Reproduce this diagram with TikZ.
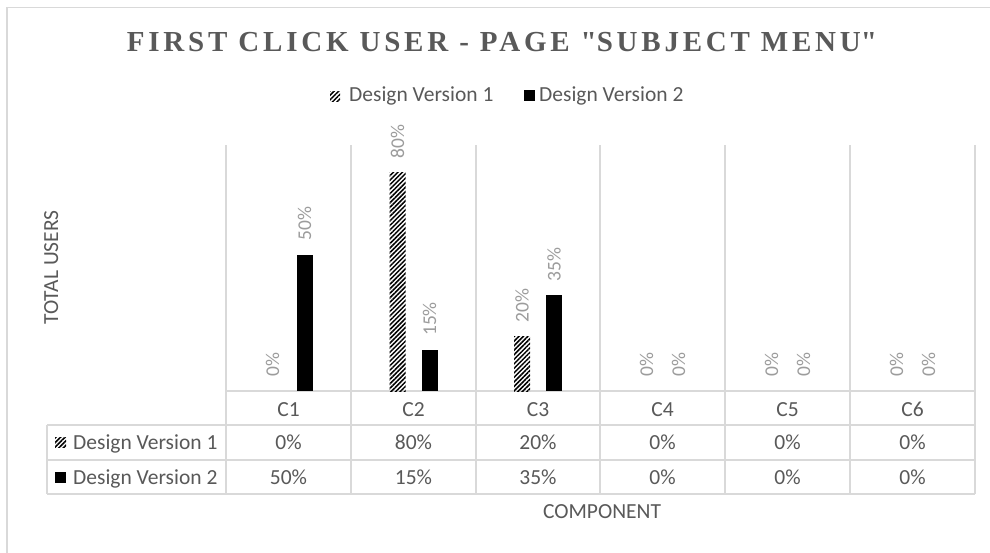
\documentclass[tikz,border=0pt]{standalone}
\usepackage{fontspec}
\setmainfont{Carlito}
\newfontfamily\titlefont[LetterSpace=13]{Liberation Serif}
\usetikzlibrary{patterns.meta}
\definecolor{gridgray}{HTML}{D9D9D9}
\definecolor{txtgray}{HTML}{595959}
\definecolor{lblgray}{HTML}{9C9C9C}

\begin{document}
\begin{tikzpicture}[x=1pt,y=-1pt,
  grid/.style={draw=gridgray,line width=1.6pt},
  txt/.style={inner sep=0pt,text=txtgray,font=\fontsize{21.5}{25}\selectfont,anchor=base},
  vlabel/.style={inner sep=0pt,text=lblgray,font=\fontsize{19.5}{23}\selectfont,rotate=90,anchor=west},
  hatch/.style={pattern={Lines[angle=45,distance=3.2pt,line width=1.5pt]},pattern color=black}]
\useasboundingbox (0,0) rectangle (990,552);
\fill[white] (0,0) rectangle (990,552);

% chart frame (top and left edges)
\draw[grid] (7,560) -- (7,7.5) -- (1000,7.5);

% title
\node[inner sep=0pt,text=txtgray,font=\titlefont\bfseries\fontsize{29}{33}\selectfont]
  (title) at (502,42.5) {FIRST CLICK USER - PAGE \textquotedbl SUBJECT MENU\textquotedbl};

% legend
\path[hatch] (330,91) rectangle (340,101);
\node[txt,anchor=base west] (leg1) at (349,101) {Design Version 1};
\fill[black] (524,90) rectangle (535,101);
\node[txt,anchor=base west] (leg2) at (539,101) {Design Version 2};

% axis titles
\node[txt,rotate=90] (ytitle) at (58,267.5) {TOTAL USERS};
\node[txt] (xtitle) at (602,518) {COMPONENT};

% vertical gridlines through plot and table
\foreach \x in {226,351,476,600,725,850,975}
  \draw[grid] (\x,145) -- (\x,494);
% table rules
\draw[grid] (226,391) -- (975,391);
\draw[grid] (47,425) -- (975,425);
\draw[grid] (47,460) -- (975,460);
\draw[grid] (47,494) -- (975,494);
\draw[grid] (47,425) -- (47,494);

% row headers
\path[hatch] (55,437) rectangle (66,447);
\node[txt,anchor=base west] (row1) at (73,449) {Design Version 1};
\fill[black] (55,472) rectangle (66,483);
\node[txt,anchor=base west] (row2) at (73,484) {Design Version 2};

% bars, category labels and data table
\foreach \i/\c/\va/\vb in {1/288.5/0/50, 2/413.5/80/15, 3/538/20/35,
                           4/662.5/0/0, 5/787.5/0/0, 6/912.5/0/0}{
  \pgfmathsetmacro\ta{391-2.73*\va}
  \pgfmathsetmacro\tb{391-2.73*\vb}
  \ifdim\va pt>0pt \path[hatch] (\c-24,\ta) rectangle (\c-8,391);\fi
  \ifdim\vb pt>0pt \fill[black] (\c+8,\tb) rectangle (\c+24,391);\fi
  \node[vlabel] (la\i) at (\c-16,\ta-14) {\va\%};
  \node[vlabel] (lb\i) at (\c+16,\tb-14) {\vb\%};
  \node[txt] (cat\i) at (\c,416) {C\i};
  \node[txt] (ta\i) at (\c,449) {\va\%};
  \node[txt] (tb\i) at (\c,484) {\vb\%};
}
\end{tikzpicture}
\end{document}
